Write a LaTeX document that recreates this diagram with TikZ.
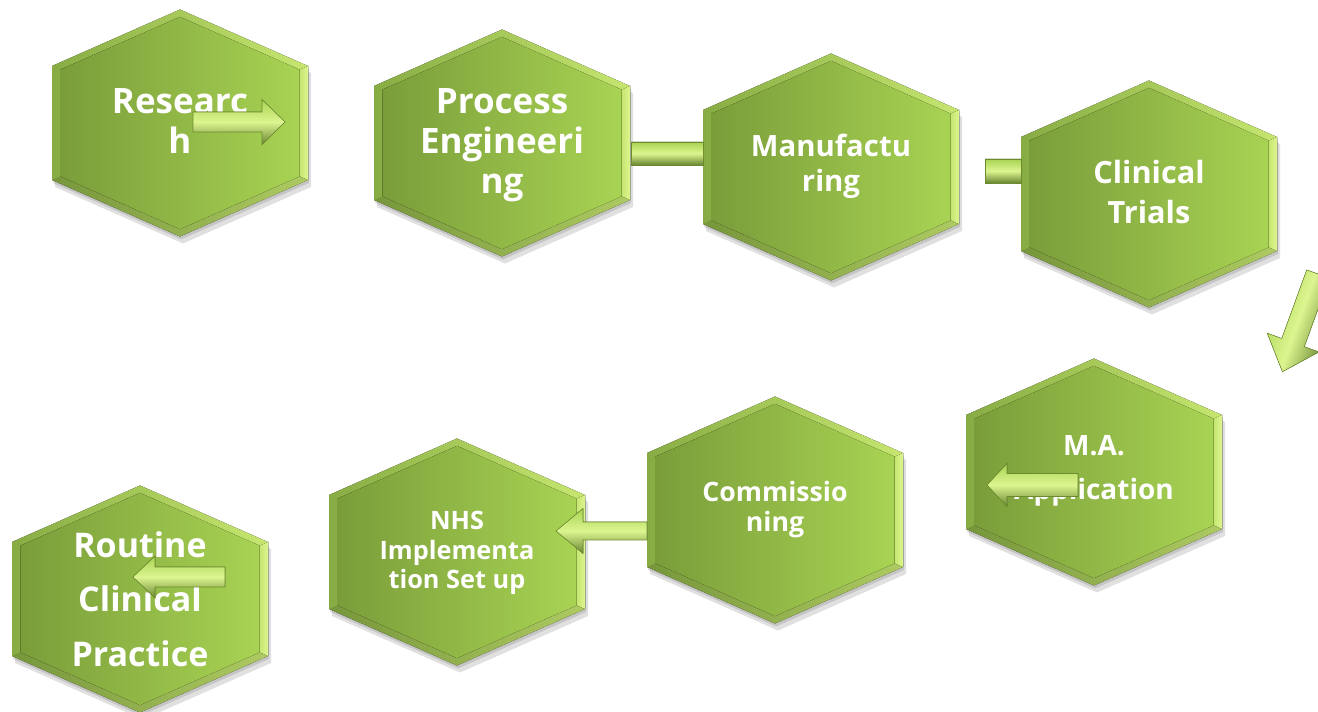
\documentclass[tikz,border=0pt]{standalone}
\usepackage{fontspec}
\setmainfont{Open Sans}
\usepackage{tikz}
\usetikzlibrary{calc, positioning}
\definecolor{xgreen}{HTML}{7A9D3A}
\definecolor{xlime}{HTML}{A8D353}
\definecolor{xbevdark}{HTML}{88AC44}
\definecolor{xbevlight}{HTML}{C6E670}
\definecolor{xglow}{HTML}{DDF590}
\definecolor{xedge}{HTML}{6B8B2C}
\tikzset{
	hexshadow/.style={fill=black, opacity=0.12},
	hexbevel/.style={left color=xbevdark, right color=xbevlight},
	hexface/.style={left color=xgreen, right color=xlime},
	hexlabel/.style={text=white, align=center, inner sep=0pt},
	blockarrow/.style={top color=xlime, bottom color=xgreen!85!black, middle color=xglow, draw=xedge, line width=0.4pt},
}
\newcommand{\hexpath}{(0,-113.5) -- (128,-57) -- (128,57) -- (0,113.5) -- (-128,57) -- (-128,-57) -- cycle}

\begin{document}
\begin{tikzpicture}[x=0.75pt, y=-0.75pt]
	\useasboundingbox (0,0) rectangle (1318,712);
	% the eight cells
	\foreach \nm/\cx/\cy/\dy/\fs/\sk/\txt in {
			research/180/123/-2/26.25/30/{Researc\\h},
			process/502/143/2/26.25/30/{Process\\Engineeri\\ng},
			manufacturing/831/167/-1/22/26.25/{Manufactu\\ring},
			trials/1149/194/-2/23/30/{Clinical\\Trials},
			application/1094/472/-1/21/33/{M.A.\\Application},
			commissioning/775/510/0/20/22.5/{Commissio\\ning},
			nhs/457/552/1/19/22/{NHS\\Implementa\\tion Set up},
			routine/140/599/0/25.5/41/{Routine\\Clinical\\Practice}} {
			\begin{scope}[shift={(\cx,\cy)}]
				\fill[hexshadow, shift={(3,7)}] \hexpath;
				\fill[hexshadow, shift={(1,3)}] \hexpath;
				\fill[hexbevel] \hexpath;
				\fill[left color=xbevlight, right color=xglow] (128,-57) -- (128,57) -- (119.7,53.3) -- (119.7,-53.3) -- cycle;
				\fill[black, opacity=0.12] (128,57) -- (0,113.5) -- (-128,57) -- (-119.7,53.3) -- (0,106.1) -- (119.7,53.3) -- cycle;
				\fill[hexface, scale=0.935] \hexpath;
				\node[hexlabel, font=\bfseries\fontsize{\fs}{\sk}\selectfont] (\nm) at (0,\dy) {\txt};
			\end{scope}
		}
	% block arrows between the cells
	\foreach \x/\y/\a/\L/\s/\h/\hl/\sa in {
			193/122/0/92/10/22.5/23/0,
			631/153.5/0/72/11.5/11.5/0/0,
			985/171/0/36/12/12/0/0,
			1318/274/250/104/12/27.5/31/70,
			1078/485/180/91/11.5/21.5/20/0,
			647/531/180/91/9/22.5/27/0,
			225/577/180/92/10/21/22/0} {
			\begin{scope}[shift={(\x,\y)}, rotate=\a]
				\fill[blockarrow, shading angle=\sa] (0,-\s) -- ({\L-\hl},-\s) -- ({\L-\hl},-\h) -- (\L,0) -- ({\L-\hl},\h) -- ({\L-\hl},\s) -- (0,\s) -- cycle;
			\end{scope}
		}
\end{tikzpicture}
\end{document}
